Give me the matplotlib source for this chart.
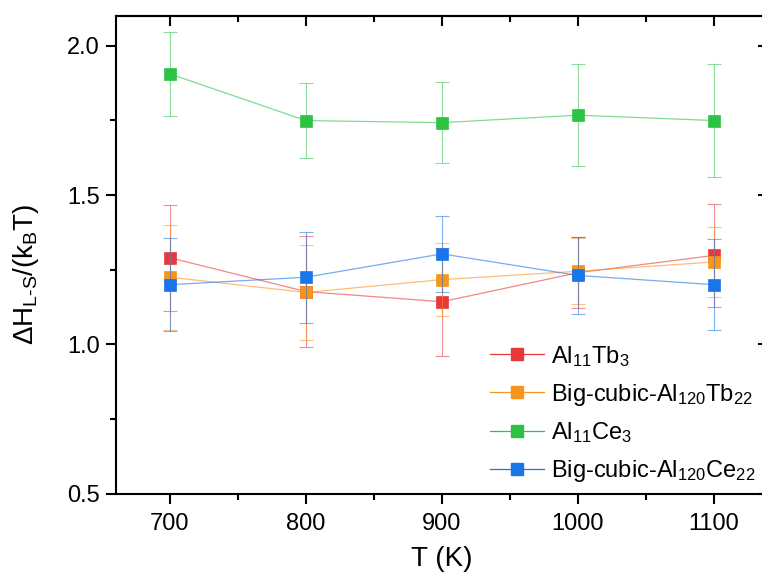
import matplotlib
matplotlib.use("Agg")
import matplotlib.pyplot as plt
from matplotlib.ticker import MultipleLocator

plt.rcParams['font.family'] = ['Liberation Sans', 'DejaVu Sans']
plt.rcParams['mathtext.fontset'] = 'custom'
plt.rcParams['mathtext.rm'] = 'Liberation Sans'
plt.rcParams['mathtext.it'] = 'Liberation Sans'
plt.rcParams['mathtext.bf'] = 'Liberation Sans:bold'

temps = [700, 800, 900, 1000, 1100]
labels = [r'Al$_{\mathregular{11}}$Tb$_{\mathregular{3}}$',
          r'Big-cubic-Al$_{\mathregular{120}}$Tb$_{\mathregular{22}}$',
          r'Al$_{\mathregular{11}}$Ce$_{\mathregular{3}}$',
          r'Big-cubic-Al$_{\mathregular{120}}$Ce$_{\mathregular{22}}$']
al11tb3 = [1.290, 1.177, 1.143, 1.240, 1.298]
al11tb3_err = [0.177, 0.187, 0.180, 0.118, 0.172]
big_tb = [1.225, 1.174, 1.217, 1.245, 1.276]
big_tb_err = [0.175, 0.160, 0.122, 0.110, 0.117]
al11ce3 = [1.905, 1.749, 1.742, 1.767, 1.749]
al11ce3_err = [0.140, 0.125, 0.135, 0.170, 0.190]
big_ce = [1.200, 1.225, 1.303, 1.231, 1.200]
big_ce_err = [0.156, 0.152, 0.128, 0.130, 0.153]

series = [al11tb3, big_tb, al11ce3, big_ce]
errors = [al11tb3_err, big_tb_err, al11ce3_err, big_ce_err]
colors = ['#E8383B', '#F7941D', '#2EC245', '#1976E8']

fig = plt.figure(figsize=(7.62, 5.85), dpi=100)
ax = fig.add_axes([0.1516, 0.1556, 0.8567, 0.8177])

handles = []
for y, e, c, lab in zip(series, errors, colors, labels):
    ax.errorbar(temps, y, yerr=e, fmt='none', ecolor=c, elinewidth=0.8,
                capsize=5, capthick=0.8, alpha=0.55)
    ax.plot(temps, y, '-', color=c, lw=0.9, alpha=0.6)
    ax.plot(temps, y, 's', color=c, ms=8, mec=c, mew=0.5)
    h, = ax.plot([], [], '-s', color=c, lw=0.9, ms=8,
                 markerfacecolor=c, markeredgecolor=c)
    h.set_label(lab)
    handles.append(h)

ax.set_xlim(660, 1140)
ax.set_ylim(0.5, 2.1)
ax.xaxis.set_major_locator(MultipleLocator(100))
ax.xaxis.set_minor_locator(MultipleLocator(50))
ax.yaxis.set_minor_locator(MultipleLocator(0.25))
ax.set_yticks([0.5, 1.0, 1.5, 2.0])
ax.set_yticklabels(['0.5', '1.0', '1.5', '2.0'])

for s in ax.spines.values():
    s.set_linewidth(1.5)

ax.tick_params(axis='both', which='major', labelsize=17, width=1.5)
ax.tick_params(axis='both', which='minor', width=1.5)
ax.tick_params(axis='x', which='major', direction='out', length=7.5, pad=6)
ax.tick_params(axis='x', which='minor', direction='out', length=4)
ax.tick_params(axis='y', which='major', direction='out', length=7.5, pad=4)
ax.tick_params(axis='y', which='minor', direction='out', length=4)

# top and right ticks pointing inward
sec_x = ax.secondary_xaxis('top')
sec_x.xaxis.set_major_locator(MultipleLocator(100))
sec_x.xaxis.set_minor_locator(MultipleLocator(50))
sec_x.tick_params(axis='x', which='major', direction='in', length=7.5, width=1.5, labeltop=False)
sec_x.tick_params(axis='x', which='minor', direction='in', length=4, width=1.5, labeltop=False)
sec_x.spines['top'].set_linewidth(1.5)
sec_y = ax.secondary_yaxis('right')
sec_y.yaxis.set_major_locator(MultipleLocator(0.5))
sec_y.yaxis.set_minor_locator(MultipleLocator(0.25))
sec_y.tick_params(axis='y', which='major', direction='in', length=7.5, width=1.5, labelright=False)
sec_y.tick_params(axis='y', which='minor', direction='in', length=4, width=1.5, labelright=False)

ax.set_xlabel('T (K)', fontsize=20, labelpad=8)
ax.set_ylabel('ΔH$_{\\mathregular{L\u2010S}}$/(k$_{\\mathregular{B}}$T)', fontsize=20)
ax.yaxis.set_label_coords(-0.114, 0.46)

ax.legend(handles=handles, loc='lower left', bbox_to_anchor=(0.566, 0.01),
          frameon=False, fontsize=17, handlelength=2.3, handletextpad=0.3,
          labelspacing=0.55, borderpad=0.2, borderaxespad=0)

fig.savefig('out.png', dpi=100)
